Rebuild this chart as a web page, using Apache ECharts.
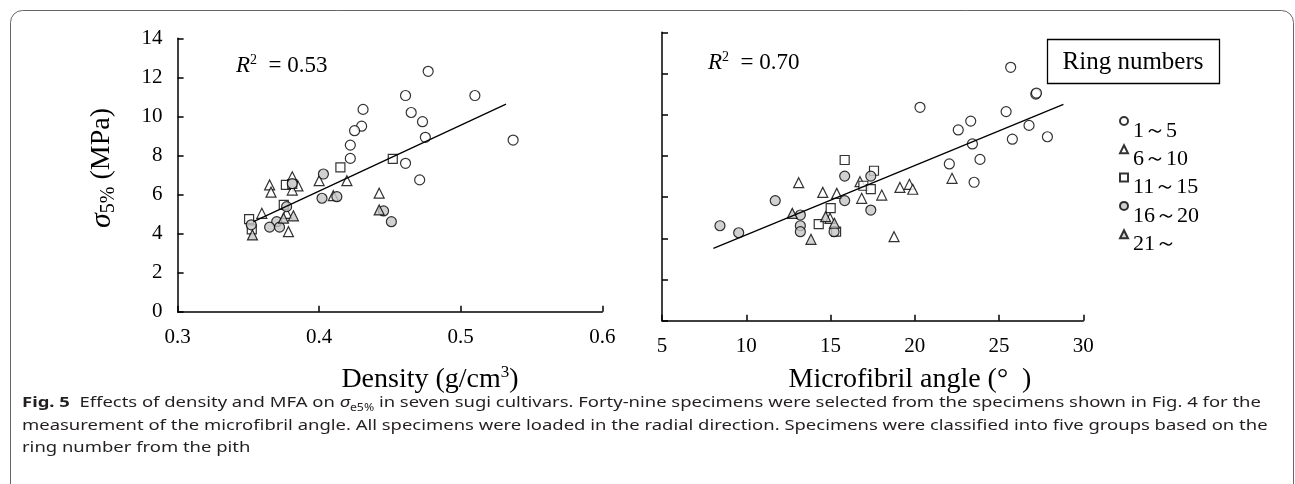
<!DOCTYPE html>
<html>
<head>
<meta charset="utf-8">
<script src="https://cdn.jsdelivr.net/npm/echarts@6/dist/echarts.min.js"></script>
<style>
  html, body { margin: 0; padding: 0; background: #fff; }
  #chart { width: 1295px; height: 484px; }
</style>
</head>
<body>
<div id="chart"></div>
<script>
// ring number groups
var groups = ['1～5', '6～10', '11～15', '16～20', '21～']

// density (g/cm3) vs sigma 5% (MPa)
var density1to5 = [[0.477, 12.31], [0.461, 11.07], [0.510, 11.07], [0.431, 10.36], [0.465, 10.2], [0.473, 9.73], [0.430, 9.50],
  [0.425, 9.27], [0.475, 8.93], [0.537, 8.79], [0.422, 8.53], [0.422, 7.85], [0.461, 7.60], [0.471, 6.75]]
var density6to10 = [[0.365, 6.49], [0.366, 6.12], [0.381, 6.91], [0.385, 6.44], [0.381, 6.23], [0.400, 6.71], [0.4196, 6.71],
  [0.410, 5.94], [0.4424, 6.07], [0.3595, 5.04], [0.377, 5.04], [0.3783, 4.10]]
var density11to15 = [[0.452, 7.83], [0.415, 7.39], [0.3765, 6.49], [0.381, 6.54], [0.375, 5.47], [0.3505, 4.74], [0.3524, 4.22]]
var density16to20 = [[0.403, 7.05], [0.402, 5.81], [0.4125, 5.89], [0.4455, 5.16], [0.451, 4.61], [0.377, 5.38], [0.370, 4.61],
  [0.365, 4.33], [0.372, 4.33], [0.352, 4.45], [0.381, 6.56]]
var density21up = [[0.3529, 3.93], [0.3748, 4.79], [0.4424, 5.21], [0.3818, 4.91]]
var densityFit = [[0.3536, 4.61], [0.532, 10.63]]

// microfibril angle (deg) vs sigma 5% (MPa)
var mfa1to5 = [[25.69, 12.30], [27.18, 11.0], [27.22, 11.05], [20.31, 10.36], [25.42, 10.15], [23.32, 9.69], [22.58, 9.26],
  [26.78, 9.48], [25.79, 8.81], [27.87, 8.93], [23.42, 8.58], [23.87, 7.83], [22.05, 7.61], [23.52, 6.72]]
var mfa6to10 = [[13.11, 6.70], [14.54, 6.23], [15.37, 6.18], [16.75, 6.75], [16.85, 5.94], [18.04, 6.10], [19.12, 6.47],
  [19.68, 6.62], [19.88, 6.38], [22.21, 6.91], [18.77, 4.08], [14.97, 4.97]]
var mfa11to15 = [[15.84, 7.80], [17.58, 7.28], [16.95, 6.55], [17.39, 6.39], [15.01, 5.46], [14.30, 4.69], [15.33, 4.32]]
var mfa16to20 = [[8.44, 4.61], [9.55, 4.27], [11.72, 5.83], [13.21, 5.13], [13.21, 4.61], [13.21, 4.32], [15.84, 7.02],
  [15.84, 5.83], [17.39, 7.02], [17.39, 5.37], [15.21, 4.32]]
var mfa21up = [[13.84, 3.95], [14.71, 5.05], [15.23, 4.73], [12.73, 5.21]]
var mfaFit = [[8.05, 3.51], [28.82, 10.50]]

var densityTicks = [0.3, 0.6, 0.1]
var mfaTicks = [5, 30, 5]
var sigmaTicks = [0, 14, 2]

var SERIF = '"Liberation Serif", "Times New Roman", serif'
var SANS = '"Noto Sans", "Open Sans", sans-serif'
var CAPTION_STRETCH = 1.23

var chart = echarts.init(document.getElementById('chart'), null, { renderer: 'canvas' })

function axisStyle (showLabel) {
  return {
    axisLine: { show: true, onZero: false, lineStyle: { color: '#000', width: 1.5 } },
    axisTick: { show: true, inside: true, length: 6, lineStyle: { color: '#000', width: 1.5 } },
    splitLine: { show: false },
    axisLabel: { show: showLabel, fontFamily: SERIF, fontSize: 21, color: '#000', margin: 15 }
  }
}

var white = { color: '#fff', borderColor: '#000', borderWidth: 1.2 }
var gray = { color: '#c6c6c6', borderColor: '#000', borderWidth: 1.2 }

function scatterSet (idx, sets) {
  var symbols = ['circle', 'triangle', 'rect', 'circle', 'triangle']
  var sizes = [10, 10, 9, 10, 10]
  var styles = [white, white, white, gray, gray]
  return sets.map(function (d, i) {
    return {
      name: groups[i],
      type: 'scatter',
      xAxisIndex: idx,
      yAxisIndex: idx,
      symbol: symbols[i],
      symbolSize: sizes[i],
      itemStyle: styles[i],
      data: d
    }
  })
}

function fitLine (idx, d) {
  return {
    name: 'fit' + idx,
    type: 'line',
    xAxisIndex: idx,
    yAxisIndex: idx,
    symbol: 'none',
    silent: true,
    lineStyle: { color: '#000', width: 1.3 },
    data: d
  }
}

function captionLine (y, text, rich) {
  return {
    type: 'text', x: 22, y: y, scaleX: CAPTION_STRETCH,
    style: { text: text, rich: rich, font: '15px ' + SANS, fill: '#231f20', verticalAlign: 'middle' }
  }
}

var capRich = {
  b: { fontFamily: SANS, fontWeight: 'bold', fontSize: 15, color: '#231f20', lineHeight: 20 },
  n: { fontFamily: SANS, fontSize: 15, color: '#231f20', lineHeight: 20 },
  i: { fontFamily: SANS, fontStyle: 'italic', fontSize: 15, color: '#231f20', lineHeight: 20 },
  sub: { fontFamily: SANS, fontSize: 10, color: '#231f20', verticalAlign: 'bottom', lineHeight: 20 },
  l: { fontFamily: SANS, fontSize: 15, color: '#2a5bd7', lineHeight: 20 }
}

var r2Rich = {
  i: { fontFamily: SERIF, fontStyle: 'italic', fontSize: 23, color: '#000', lineHeight: 26 },
  sup: { fontFamily: SERIF, fontSize: 14, color: '#000', verticalAlign: 'top', lineHeight: 26 },
  n: { fontFamily: SERIF, fontSize: 23, color: '#000', lineHeight: 26 }
}

var option = {
  animation: false,
  backgroundColor: '#fff',
  grid: [
    { left: 177.6, top: 38.3, width: 424.7, height: 273.4, containLabel: false, outerBoundsMode: 'none' },
    { left: 662, top: 32.3, width: 421.3, height: 288.4, containLabel: false, outerBoundsMode: 'none' }
  ],
  xAxis: [
    Object.assign(axisStyle(true), {
      type: 'value', gridIndex: 0, min: densityTicks[0], max: densityTicks[1], interval: densityTicks[2]
    }),
    Object.assign(axisStyle(true), {
      type: 'value', gridIndex: 1, min: mfaTicks[0], max: mfaTicks[1], interval: mfaTicks[2]
    })
  ],
  yAxis: [
    Object.assign(axisStyle(true), {
      type: 'value', gridIndex: 0, min: sigmaTicks[0], max: sigmaTicks[1], interval: sigmaTicks[2]
    }),
    Object.assign(axisStyle(false), {
      type: 'value', gridIndex: 1, min: sigmaTicks[0], max: sigmaTicks[1], interval: sigmaTicks[2]
    })
  ],
  legend: {
    orient: 'vertical',
    left: 1119,
    top: 116,
    padding: 0,
    itemWidth: 8,
    itemHeight: 8,
    itemGap: 2.3,
    selectedMode: false,
    data: groups,
    formatter: '{t|{name}}',
    textStyle: {
      fontFamily: SERIF, fontSize: 22, color: '#000',
      rich: { t: { fontFamily: SERIF, fontSize: 22, color: '#000', lineHeight: 42, verticalAlign: 'bottom' } }
    }
  },
  series: [fitLine(0, densityFit)]
    .concat(scatterSet(0, [density1to5, density6to10, density11to15, density16to20, density21up]))
    .concat([fitLine(1, mfaFit)])
    .concat(scatterSet(1, [mfa1to5, mfa6to10, mfa11to15, mfa16to20, mfa21up])),
  graphic: [
    {
      type: 'rect', silent: true,
      shape: { x: 10.5, y: 10.5, width: 1283, height: 520, r: [12, 12, 0, 0] },
      style: { fill: 'none', stroke: '#666', lineWidth: 1 }
    },
    {
      type: 'rect', silent: true,
      shape: { x: 1047.5, y: 39.5, width: 172, height: 44 },
      style: { fill: '#fff', stroke: '#000', lineWidth: 1.3 }
    },
    {
      type: 'text', x: 1133, y: 62,
      style: { text: 'Ring numbers', font: '25px ' + SERIF, fill: '#000', align: 'center', verticalAlign: 'middle' }
    },
    {
      type: 'text', x: 236, y: 66,
      style: { text: '{i|R}{sup|2}{n|  = 0.53}', verticalAlign: 'middle', rich: r2Rich }
    },
    {
      type: 'text', x: 708, y: 63,
      style: { text: '{i|R}{sup|2}{n|  = 0.70}', verticalAlign: 'middle', rich: r2Rich }
    },
    {
      type: 'text', x: 102, y: 168, rotation: Math.PI / 2,
      style: {
        text: '{i|σ}{sub|5%}{n| (MPa)}', align: 'center', verticalAlign: 'middle',
        rich: {
          i: { fontFamily: SERIF, fontStyle: 'italic', fontSize: 30, color: '#000', lineHeight: 34 },
          sub: { fontFamily: SERIF, fontSize: 20, color: '#000', verticalAlign: 'bottom', lineHeight: 34 },
          n: { fontFamily: SERIF, fontSize: 28, color: '#000', lineHeight: 34 }
        }
      }
    },
    {
      type: 'text', x: 430, y: 380,
      style: {
        text: '{n|Density (g/cm}{sup|3}{n|)}', align: 'center', verticalAlign: 'middle',
        rich: {
          n: { fontFamily: SERIF, fontSize: 28, color: '#000', lineHeight: 32 },
          sup: { fontFamily: SERIF, fontSize: 17, color: '#000', verticalAlign: 'top', lineHeight: 32 }
        }
      }
    },
    {
      type: 'text', x: 910, y: 380,
      style: { text: 'Microfibril angle (°  )', font: '28px ' + SERIF, fill: '#000', align: 'center', verticalAlign: 'middle' }
    },
    captionLine(403, '{b|Fig. 5}{n|  Effects of density and MFA on }{i|σ}{sub|e5%}{n| in seven sugi cultivars. Forty-nine specimens were selected from the specimens shown in Fig. }{l|4}{n| for the}', capRich),
    captionLine(426, 'measurement of the microfibril angle. All specimens were loaded in the radial direction. Specimens were classified into five groups based on the'),
    captionLine(448, 'ring number from the pith')
  ]
}

chart.setOption(option)
</script>
</body>
</html>
